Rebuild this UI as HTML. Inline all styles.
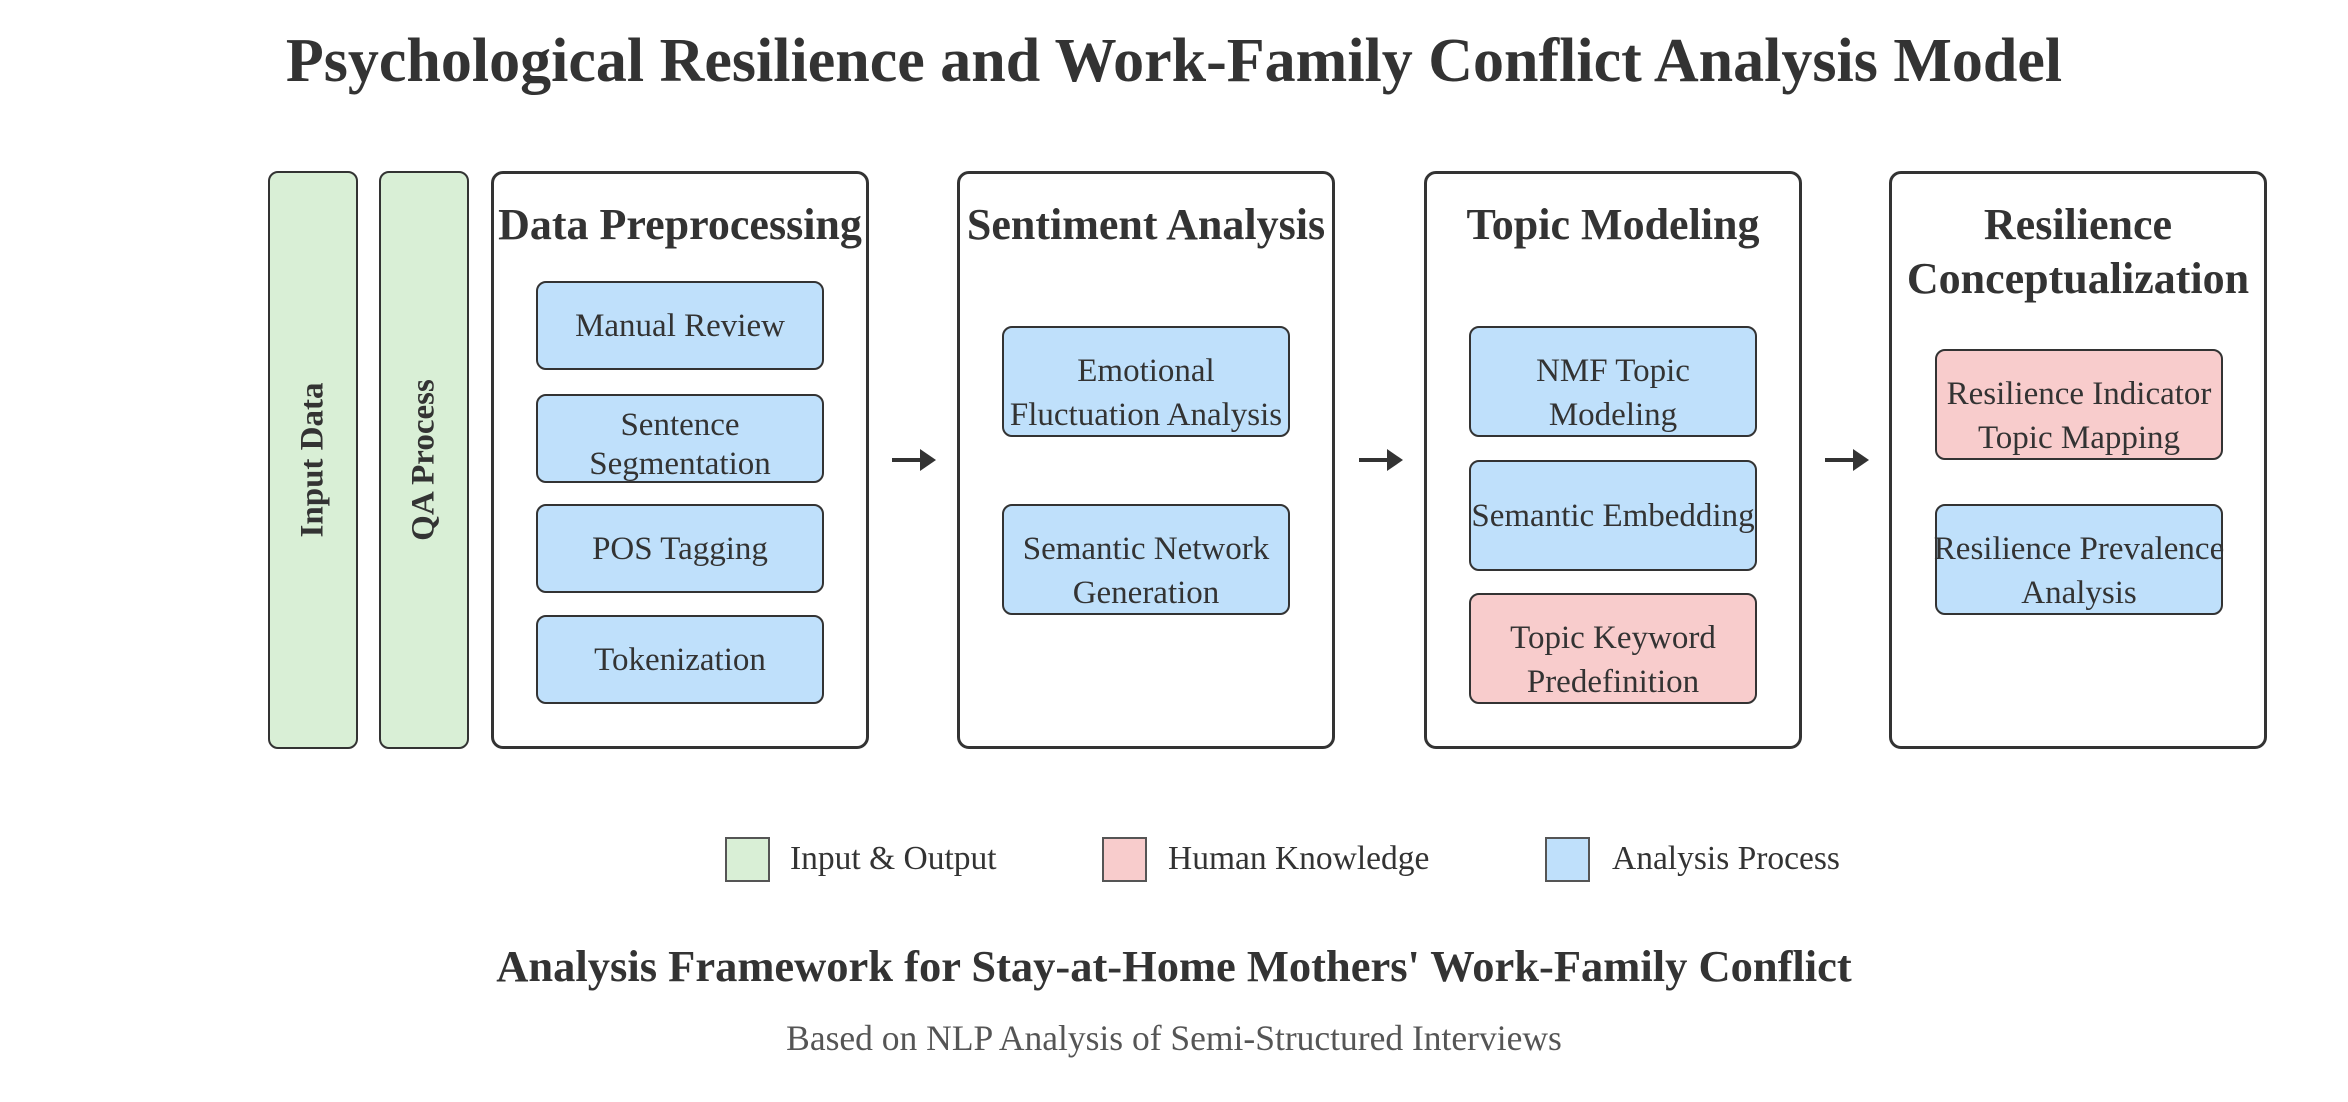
<!DOCTYPE html>
<html><head><meta charset="utf-8"><style>
html,body{margin:0;padding:0;background:#fff;}
body{width:2348px;height:1102px;position:relative;overflow:hidden;font-family:"Liberation Serif",serif;color:#333;}
.abs{position:absolute;box-sizing:border-box;}
.title{left:0;width:2348px;text-align:center;font-weight:bold;white-space:nowrap;}
.bar{background:#d9efd6;border:2px solid #333;border-radius:10px;top:171px;height:578px;width:90px;}
.bar span{position:absolute;left:50%;top:50%;transform:translate(-50%,-50%) rotate(-90deg);white-space:nowrap;font-weight:bold;font-size:33px;}
.panel{border:3px solid #333;border-radius:12px;top:171px;height:578px;width:378px;background:#fff;}
.ph{position:absolute;left:-10px;right:-10px;text-align:center;font-weight:bold;font-size:44px;line-height:54px;top:24px;white-space:nowrap;}
.sub{border:2px solid #333;border-radius:10px;width:288px;display:flex;align-items:center;justify-content:center;text-align:center;font-size:33px;line-height:44px;white-space:nowrap;}
.two{padding-top:22px;}
.blue{background:#bfe0fb;}.pink{background:#f8cccc;}.green{background:#d9efd6;}
.arrow{height:4px;background:#333;width:30px;top:458px;}
.arrow::after{content:"";position:absolute;right:-14px;top:-9px;border-left:16px solid #333;border-top:11px solid transparent;border-bottom:11px solid transparent;}
.sw{width:45px;height:45px;border:2px solid #555;top:837px;}
.lt{font-size:33.5px;top:840px;white-space:nowrap;}
</style></head><body>
<div class="abs title" style="top:26px;font-size:62px;">Psychological Resilience and Work-Family Conflict Analysis Model</div>

<div class="abs bar" style="left:268px;"><span>Input Data</span></div>
<div class="abs bar" style="left:379px;"><span>QA Process</span></div>

<div class="abs panel" style="left:491px;">
<div class="ph">Data Preprocessing</div></div>
<div class="abs sub blue" style="left:536px;top:281px;height:89px;">Manual Review</div>
<div class="abs sub blue" style="left:536px;top:394px;height:89px;line-height:39px;padding-top:12px;">Sentence<br>Segmentation</div>
<div class="abs sub blue" style="left:536px;top:504px;height:89px;">POS Tagging</div>
<div class="abs sub blue" style="left:536px;top:615px;height:89px;">Tokenization</div>

<div class="abs arrow" style="left:892px;"></div>

<div class="abs panel" style="left:957px;">
<div class="ph">Sentiment Analysis</div></div>
<div class="abs sub blue two" style="left:1002px;top:326px;height:111px;">Emotional<br>Fluctuation Analysis</div>
<div class="abs sub blue two" style="left:1002px;top:504px;height:111px;">Semantic Network<br>Generation</div>

<div class="abs arrow" style="left:1359px;"></div>

<div class="abs panel" style="left:1424px;">
<div class="ph">Topic Modeling</div></div>
<div class="abs sub blue two" style="left:1469px;top:326px;height:111px;">NMF Topic<br>Modeling</div>
<div class="abs sub blue" style="left:1469px;top:460px;height:111px;">Semantic Embedding</div>
<div class="abs sub pink two" style="left:1469px;top:593px;height:111px;">Topic Keyword<br>Predefinition</div>

<div class="abs arrow" style="left:1825px;"></div>

<div class="abs panel" style="left:1889px;">
<div class="ph">Resilience<br>Conceptualization</div></div>
<div class="abs sub pink two" style="left:1935px;top:349px;height:111px;">Resilience Indicator<br>Topic Mapping</div>
<div class="abs sub blue two" style="left:1935px;top:504px;height:111px;">Resilience Prevalence<br>Analysis</div>

<div class="abs sw green" style="left:725px;"></div>
<div class="abs lt" style="left:790px;">Input &amp; Output</div>
<div class="abs sw pink" style="left:1102px;"></div>
<div class="abs lt" style="left:1168px;">Human Knowledge</div>
<div class="abs sw blue" style="left:1545px;"></div>
<div class="abs lt" style="left:1612px;">Analysis Process</div>

<div class="abs title" style="top:940px;font-size:44.5px;">Analysis Framework for Stay-at-Home Mothers' Work-Family Conflict</div>
<div class="abs title" style="top:1017px;font-size:35.5px;font-weight:normal;color:#555;">Based on NLP Analysis of Semi-Structured Interviews</div>
</body></html>
